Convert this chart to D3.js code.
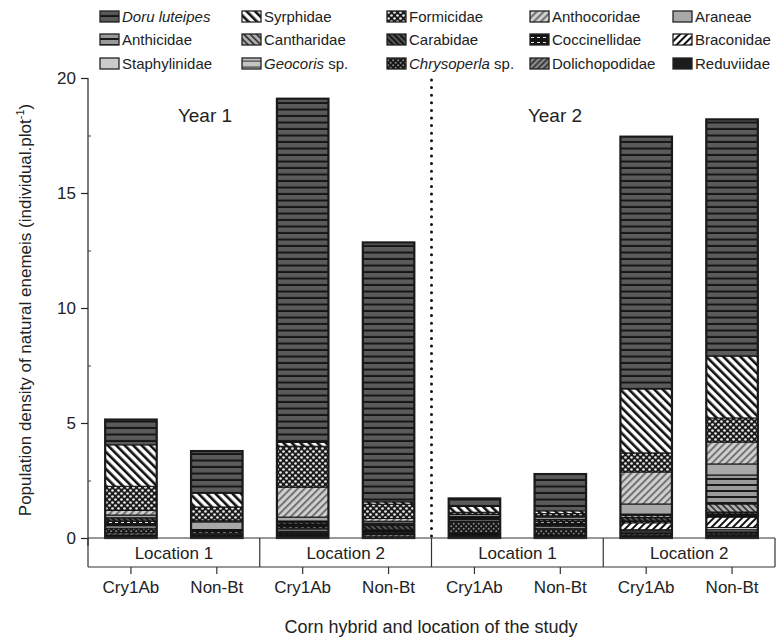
<!DOCTYPE html>
<html><head><meta charset="utf-8">
<script src="https://cdn.jsdelivr.net/npm/d3@7"></script>
<style>body{margin:0;background:#fff}svg{display:block;font-family:"Liberation Sans",Arial,sans-serif}</style>
</head><body>
<svg id="c" width="777" height="640"></svg>
<script>
const categories = ["Cry1Ab","Non-Bt","Cry1Ab","Non-Bt","Cry1Ab","Non-Bt","Cry1Ab","Non-Bt"];
const locations = ["Location 1","Location 2","Location 1","Location 2"];
const years = ["Year 1","Year 2"];
const yTicks = [0,5,10,15,20];
const species = ["Doru luteipes","Syrphidae","Formicidae","Anthocoridae","Araneae","Anthicidae","Cantharidae","Carabidae","Coccinellidae","Braconidae","Staphylinidae","Geocoris sp.","Chrysoperla sp.","Dolichopodidae","Reduviidae"];
const doru    = [1.10, 1.83, 14.94, 11.28, 0.35, 1.60, 10.97, 10.29];
const syrph   = [1.80, 0.60, 0.17, 0.10, 0.25, 0.12, 2.78, 2.69];
const formic  = [1.05, 0.60, 1.78, 0.62, 0.10, 0.10, 0.83, 1.05];
const anthoc  = [0.20, 0.05, 1.30, 0.12, 0.00, 0.05, 1.39, 0.95];
const aran    = [0.12, 0.33, 0.17, 0.08, 0.08, 0.10, 0.44, 0.48];
const anthic  = [0.00, 0.00, 0.05, 0.05, 0.00, 0.00, 0.05, 1.26];
const canth   = [0.00, 0.00, 0.00, 0.05, 0.00, 0.00, 0.10, 0.35];
const carab   = [0.15, 0.05, 0.10, 0.20, 0.05, 0.10, 0.15, 0.10];
const cocc    = [0.20, 0.10, 0.15, 0.10, 0.10, 0.15, 0.08, 0.12];
const bracon  = [0.00, 0.00, 0.00, 0.00, 0.00, 0.05, 0.30, 0.45];
const staph   = [0.00, 0.00, 0.05, 0.00, 0.07, 0.08, 0.05, 0.10];
const geoc    = [0.10, 0.05, 0.10, 0.05, 0.00, 0.05, 0.08, 0.10];
const chrys   = [0.20, 0.07, 0.10, 0.05, 0.52, 0.25, 0.05, 0.08];
const dolich  = [0.10, 0.05, 0.05, 0.10, 0.05, 0.05, 0.08, 0.06];
const reduv   = [0.13, 0.05, 0.14, 0.05, 0.15, 0.08, 0.10, 0.12];
const seriesValues = [doru,syrph,formic,anthoc,aran,anthic,canth,carab,cocc,bracon,staph,geoc,chrys,dolich,reduv];

const svg = d3.select("#c");
const defs = svg.append("defs");
const L=88, R=775, T=78, B=538;
const x = d3.scaleBand().domain(d3.range(categories.length)).range([L,R]).paddingInner(0.4).paddingOuter(0.2);
const xLoc = d3.scaleBand().domain(d3.range(locations.length)).range([L,R]);
const y = d3.scaleLinear().domain([0,20]).range([B,T]);

// patterns
function pat(id,w,h,bg,draw,rot){
  const p=defs.append("pattern").attr("id",id).attr("patternUnits","userSpaceOnUse").attr("width",w).attr("height",h);
  if(rot) p.attr("patternTransform","rotate("+rot+")");
  p.append("rect").attr("width",w).attr("height",h).attr("fill",bg);
  draw(p);
}
const hl=(c,y0,hh)=>p=>p.append("rect").attr("x",0).attr("y",y0).attr("width",20).attr("height",hh).attr("fill",c);
const vl=(c,ww)=>p=>p.append("rect").attr("x",0).attr("y",0).attr("width",ww).attr("height",20).attr("fill",c);
pat("p0",8,6.5,"#5b5b5b",hl("#151515",4.5,2));
pat("p1",6,6,"#ffffff",vl("#111",2.6),-45);
pat("p2",6,6,"#1c1c1c",p=>{[[1.5,1.5],[4.5,4.5]].forEach(c=>p.append("circle").attr("cx",c[0]).attr("cy",c[1]).attr("r",1.35).attr("fill","#e6e6e6"));});
pat("p3",5,5,"#cfcfcf",vl("#6a6a6a",1.8),45);
pat("p4",4,4,"#a8a8a8",()=>{});
pat("p5",8,6,"#9a9a9a",hl("#1a1a1a",4,2));
pat("p6",4.5,4.5,"#b0b0b0",vl("#3a3a3a",1.8),-45);
pat("p7",4,4,"#555",vl("#111",1.8),-45);
pat("p8",6,5,"#151515",p=>{p.append("rect").attr("x",1).attr("y",2).attr("width",3).attr("height",1).attr("fill","#e8e8e8");});
pat("p9",5,5,"#ffffff",vl("#111",2),45);
pat("p10",4,4,"#cbcbcb",()=>{});
pat("p11",8,6,"#c4c4c4",hl("#444",2.5,1.2));
pat("p12",5,5,"#161616",p=>{[[1.2,1.2],[3.7,3.7]].forEach(c=>p.append("circle").attr("cx",c[0]).attr("cy",c[1]).attr("r",1).attr("fill","#8a8a8a"));});
pat("p13",4,4,"#8a8a8a",vl("#2e2e2e",1.6),45);
pat("p14",4,4,"#1b1b1b",()=>{});

// stack (first species on top => stack reversed)
const rows = categories.map((c,i)=>{const o={i:i}; species.forEach((s,k)=>o[k]=seriesValues[k][i]); return o;});
const keys = d3.range(species.length).reverse();
const stacked = d3.stack().keys(keys)(rows);

const g = svg.append("g");
stacked.forEach(layer=>{
  const k = layer.key;
  g.selectAll(null).data(layer.filter(d=>d[1]-d[0]>0)).enter().append("rect")
    .attr("x",d=>x(d.data.i)).attr("width",x.bandwidth())
    .attr("y",d=>y(d[1])).attr("height",d=>y(d[0])-y(d[1]))
    .attr("fill","url(#p"+k+")").attr("stroke","#111").attr("stroke-width",1);
});
// bar outlines
g.selectAll(null).data(rows).enter().append("rect")
  .attr("x",d=>x(d.i)).attr("width",x.bandwidth())
  .attr("y",d=>y(d3.sum(seriesValues,s=>s[d.i]))).attr("height",d=>B-y(d3.sum(seriesValues,s=>s[d.i])))
  .attr("fill","none").attr("stroke","#1a1a1a").attr("stroke-width",2.2);

// y axis
const ya = svg.append("g").attr("transform","translate("+L+",0)")
  .call(d3.axisLeft(y).tickValues(yTicks).tickSize(7).tickPadding(5));
ya.select(".domain").attr("stroke","#222").attr("stroke-width",1.2).attr("d","M0,"+T+"V"+(B+8));
ya.selectAll(".tick line").attr("stroke","#222").attr("stroke-width",1.2);
ya.selectAll("text").attr("font-size",17).attr("fill","#222").attr("font-family","Liberation Sans, Arial, sans-serif");
svg.append("g").attr("transform","translate("+L+",0)")
  .call(d3.axisRight(y).tickValues([2.5,7.5,12.5,17.5]).tickSize(3).tickFormat(""))
  .call(s=>{s.select(".domain").remove(); s.selectAll("line").attr("stroke","#444");});

// x axis line and location boxes
const boxB = 567;
svg.append("line").attr("x1",L).attr("x2",R).attr("y1",B).attr("y2",B).attr("stroke","#333").attr("stroke-width",1.2);
svg.append("line").attr("x1",L).attr("x2",R).attr("y1",boxB).attr("y2",boxB).attr("stroke","#333").attr("stroke-width",1.2);
d3.range(locations.length+1).forEach(j=>{
  const xx = j<locations.length? xLoc(j): R;
  svg.append("line").attr("x1",xx).attr("x2",xx).attr("y1",B).attr("y2",boxB).attr("stroke","#333").attr("stroke-width",1.2);
});
svg.selectAll(".loc").data(locations).enter().append("text")
  .attr("x",(d,j)=>xLoc(j)+xLoc.bandwidth()/2).attr("y",559)
  .attr("text-anchor","middle").attr("font-size",17).attr("fill","#222").text(d=>d);
const xa = svg.append("g").attr("transform","translate(0,"+boxB+")")
  .call(d3.axisBottom(x).tickSize(7).tickPadding(7).tickFormat(i=>categories[i]));
xa.select(".domain").remove();
xa.selectAll("line").attr("stroke","#333").attr("stroke-width",1.2);
xa.selectAll("text").attr("font-size",17).attr("fill","#222").attr("font-family","Liberation Sans, Arial, sans-serif");

// dotted separator
const mid = xLoc(2);
svg.append("line").attr("x1",mid).attr("x2",mid).attr("y1",T+2).attr("y2",B)
  .attr("stroke","#111").attr("stroke-width",3).attr("stroke-linecap","round").attr("stroke-dasharray","0,7.6");

// year labels
svg.selectAll(".yr").data(years).enter().append("text")
  .attr("x",(d,j)=>j===0?205:555).attr("y",122).attr("text-anchor","middle")
  .attr("font-size",19).attr("fill","#222").text(d=>d);

// axis titles
svg.append("text").attr("x",431).attr("y",633).attr("text-anchor","middle").attr("font-size",18).attr("fill","#222")
  .text("Corn hybrid and location of the study");
const yt = svg.append("text").attr("transform","translate(31,310) rotate(-90)").attr("text-anchor","middle")
  .attr("font-size",17).attr("fill","#222");
yt.append("tspan").text("Population density of natural enemeis (individual.plot");
yt.append("tspan").attr("dy",-7).attr("font-size",11).text("-1");
yt.append("tspan").attr("dy",7).text(")");

// legend
const colX=[100,242,387,530,673], rowY=[17,40,64];
const italicParts = {"Doru luteipes":["Doru luteipes",""],"Geocoris sp.":["Geocoris"," sp."],"Chrysoperla sp.":["Chrysoperla"," sp."]};
species.forEach((s,k)=>{
  const r=Math.floor(k/5), c=k%5;
  const lg=svg.append("g").attr("transform","translate("+colX[c]+","+rowY[r]+")");
  lg.append("rect").attr("x",0).attr("y",-6).attr("width",19).attr("height",11).attr("fill","url(#p"+k+")")
    .attr("stroke","#222").attr("stroke-width",1.3);
  const t=lg.append("text").attr("x",22).attr("y",5).attr("font-size",15).attr("fill","#222");
  if(italicParts[s]){ t.append("tspan").attr("font-style","italic").text(italicParts[s][0]); if(italicParts[s][1]) t.append("tspan").text(italicParts[s][1]); }
  else t.text(s);
});
</script>
</body></html>
